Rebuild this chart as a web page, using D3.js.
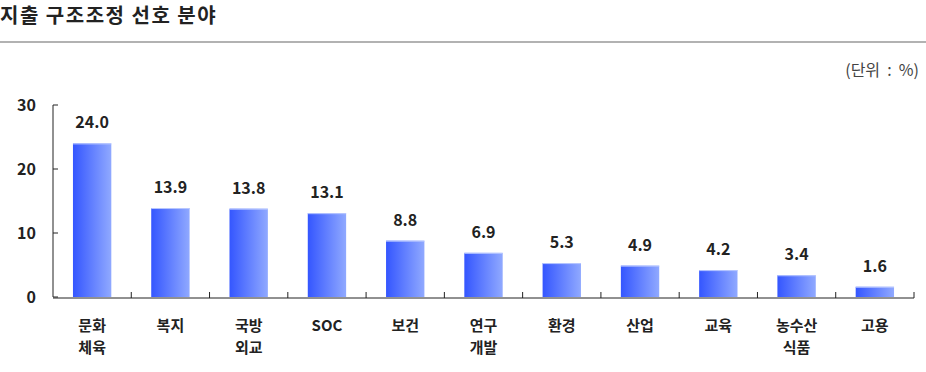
<!DOCTYPE html>
<html>
<head>
<meta charset="utf-8">
<script src="https://cdn.jsdelivr.net/npm/d3@7"></script>
<style>
  body { margin: 0; background: #fff; }
  svg { display: block; font-family: "Noto Sans CJK KR", "Noto Sans", sans-serif; }
</style>
</head>
<body>
<div id="chart"></div>
<script>
// data
var categories = [["문화", "체육"], ["복지"], ["국방", "외교"], ["SOC"], ["보건"], ["연구", "개발"], ["환경"], ["산업"], ["교육"], ["농수산", "식품"], ["고용"]];
var values = [24.0, 13.9, 13.8, 13.1, 8.8, 6.9, 5.3, 4.9, 4.2, 3.4, 1.6];
var yTicks = [0, 10, 20, 30];

var width = 926, height = 372;
var svg = d3.select("#chart").append("svg")
    .attr("width", width)
    .attr("height", height);

// gradient for bars
var grad = svg.append("defs").append("linearGradient")
    .attr("id", "barGrad")
    .attr("x1", "0%").attr("x2", "100%");
grad.append("stop").attr("offset", "0%").attr("stop-color", "#3456ff");
grad.append("stop").attr("offset", "100%").attr("stop-color", "#90a9ff");

// title + rule
svg.append("text")
    .attr("x", 0).attr("y", 23)
    .style("font-size", "20px").style("font-weight", "bold")
    .style("letter-spacing", "1.5px")
    .attr("fill", "#222")
    .text("지출 구조조정 선호 분야");

svg.append("line")
    .attr("x1", 0).attr("x2", width)
    .attr("y1", 42).attr("y2", 42)
    .attr("stroke", "#999").attr("stroke-width", 1.5);

svg.append("text")
    .attr("x", 919).attr("y", 76)
    .attr("text-anchor", "end")
    .attr("xml:space", "preserve")
    .style("font-size", "16px")
    .attr("fill", "#444")
    .text("(단위  :  %)");

var x0 = 53, x1 = 914, yBottom = 297, yTop = 105;

var x = d3.scaleBand()
    .domain(d3.range(categories.length))
    .range([x0, x1])
    .paddingInner(0.51)
    .paddingOuter(0.255);

var step = (x1 - x0) / categories.length;

var y = d3.scaleLinear()
    .domain([0, 30])
    .range([yBottom, yTop]);

// y axis
svg.append("line")
    .attr("x1", x0).attr("x2", x0)
    .attr("y1", y(0)).attr("y2", y(30))
    .attr("stroke", "#222");

svg.selectAll(".ytick").data(yTicks).enter().append("line")
    .attr("x1", x0).attr("x2", x0 + 5)
    .attr("y1", function(d) { return y(d); })
    .attr("y2", function(d) { return y(d); })
    .attr("stroke", "#222");

svg.selectAll(".ylab").data(yTicks).enter().append("text")
    .attr("x", 36)
    .attr("y", function(d) { return y(d) + 6; })
    .attr("text-anchor", "end")
    .style("font-size", "16px").style("font-weight", "bold")
    .attr("fill", "#222")
    .text(function(d) { return d; });

// bars
svg.selectAll(".bar").data(values).enter().append("rect")
    .attr("x", function(d, i) { return x(i); })
    .attr("y", function(d) { return y(d); })
    .attr("width", x.bandwidth())
    .attr("height", function(d) { return y(0) - y(d); })
    .attr("fill", "url(#barGrad)");

// light top edge
svg.selectAll(".edge").data(values).enter().append("line")
    .attr("x1", function(d, i) { return x(i); })
    .attr("x2", function(d, i) { return x(i) + x.bandwidth(); })
    .attr("y1", function(d) { return y(d) + 0.5; })
    .attr("y2", function(d) { return y(d) + 0.5; })
    .attr("stroke", "#b9c8ff");

// x axis
svg.append("line")
    .attr("x1", x0).attr("x2", x1)
    .attr("y1", yBottom + 1).attr("y2", yBottom + 1)
    .attr("stroke", "#222");

svg.selectAll(".xtick").data(d3.range(1, categories.length + 1)).enter().append("line")
    .attr("x1", function(i) { return x0 + i * step; })
    .attr("x2", function(i) { return x0 + i * step; })
    .attr("y1", yBottom + 1).attr("y2", yBottom - 5)
    .attr("stroke", "#222");

// value labels
svg.selectAll(".val").data(values).enter().append("text")
    .attr("x", function(d, i) { return x(i) + x.bandwidth() / 2; })
    .attr("y", function(d) { return y(d) - 15; })
    .attr("text-anchor", "middle")
    .style("font-size", "16px").style("font-weight", "bold")
    .attr("fill", "#222")
    .text(function(d) { return d.toFixed(1); });

// category labels
var cat = svg.selectAll(".cat").data(categories).enter().append("text")
    .attr("x", function(d, i) { return x(i) + x.bandwidth() / 2; })
    .attr("y", 331)
    .attr("text-anchor", "middle")
    .style("font-size", "15px").style("font-weight", "bold")
    .attr("fill", "#222");

cat.selectAll("tspan").data(function(d) { return d; }).enter().append("tspan")
    .attr("x", function() { return d3.select(this.parentNode).attr("x"); })
    .attr("dy", function(d, j) { return j === 0 ? 0 : 22; })
    .text(function(d) { return d; });
</script>
</body>
</html>
